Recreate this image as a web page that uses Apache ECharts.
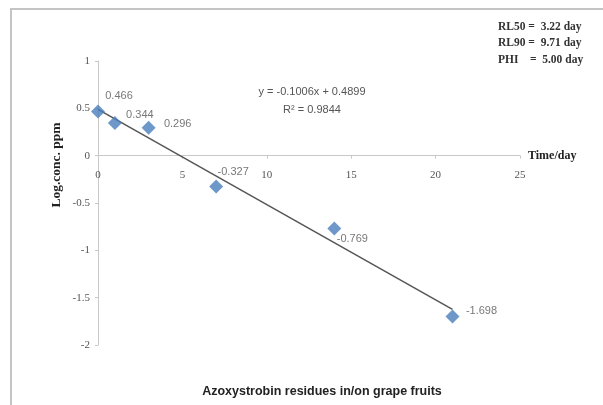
<!DOCTYPE html>
<html>
<head>
<meta charset="utf-8">
<script src="https://cdn.jsdelivr.net/npm/echarts@6/dist/echarts.min.js"></script>
<style>html,body{margin:0;padding:0;background:#fff}#c{width:603px;height:405px}</style>
</head>
<body>
<div id="c"></div>
<script>
var days = [0, 1, 3, 7, 14, 21];
var logConc = [0.466, 0.344, 0.296, -0.327, -0.769, -1.698];
var labelTexts = ['0.466', '0.344', '0.296', '-0.327', '-0.769', '-1.698'];
var slope = -0.1006, intercept = 0.4899;
var trendX = [0, 21];
var xTicks = [0, 5, 10, 15, 20, 25];
var yTicks = [-2, -1.5, -1, -0.5, 0, 0.5, 1];

var labelOffsets = [[21, -16], [25, -8], [29, -4], [17, -15], [18, 11], [29, -5]];

var chart = echarts.init(document.getElementById('c'));
var serif = 'Liberation Serif, Times New Roman, serif';
var sans = 'Liberation Sans, Arial, sans-serif';
var gridTop = 61, gridBottom = 60, H = 405;
var plotH = H - gridTop - gridBottom;
var zeroOffset = -plotH * (0 - (-2)) / (1 - (-2));

chart.setOption({
  animation: false,
  grid: {left: 98, right: 83, top: gridTop, bottom: gridBottom},
  xAxis: {
    type: 'value', min: 0, max: 25, interval: 5,
    offset: zeroOffset,
    axisLine: {onZero: false, lineStyle: {color: '#c8c8c8', width: 1}},
    axisTick: {show: true, length: 3, lineStyle: {color: '#c8c8c8'}},
    axisLabel: {color: '#555', fontFamily: serif, fontSize: 11, margin: 14},
    splitLine: {show: false},
    name: 'Time/day', nameLocation: 'end', nameGap: 8,
    nameTextStyle: {color: '#222', fontFamily: serif, fontSize: 12, fontWeight: 'bold', padding: [18, 0, 0, 0]}
  },
  yAxis: {
    type: 'value', min: -2, max: 1, interval: 0.5,
    axisLine: {show: true, onZero: true, lineStyle: {color: '#c8c8c8', width: 1}},
    axisTick: {show: true, length: 3, lineStyle: {color: '#c8c8c8'}},
    axisLabel: {color: '#555', fontFamily: serif, fontSize: 11, margin: 8},
    splitLine: {show: false}
  },
  series: [
    {
      type: 'line',
      data: trendX.map(function (x) { return [x, slope * x + intercept]; }),
      symbol: 'none',
      lineStyle: {color: '#555', width: 1.5},
      z: 1
    },
    {
      type: 'scatter',
      symbol: 'diamond',
      symbolSize: 14,
      itemStyle: {color: '#4a7ebb'},
      data: days.map(function (d, i) {
        return {
          value: [d, logConc[i]],
          label: {
            show: true,
            formatter: labelTexts[i],
            position: 'inside',
            offset: labelOffsets[i],
            color: '#555',
            fontFamily: sans,
            fontSize: 11
          }
        };
      }),
      z: 3
    }
  ],
  graphic: [
    {type: 'rect', shape: {x: 11, y: 9, width: 620, height: 420}, style: {fill: 'none', stroke: '#c4c4c4', lineWidth: 2}, silent: true},
    {type: 'text', x: 312, y: 92, style: {text: 'y = -0.1006x + 0.4899', fill: '#555', font: '11px ' + sans, align: 'center', verticalAlign: 'middle'}},
    {type: 'text', x: 312, y: 110, style: {text: 'R² = 0.9844', fill: '#555', font: '11px ' + sans, align: 'center', verticalAlign: 'middle'}},
    {type: 'text', x: 498, y: 27, style: {text: 'RL50 =  3.22 day', fill: '#333', font: 'bold 11.5px ' + serif, verticalAlign: 'middle'}},
    {type: 'text', x: 498, y: 43, style: {text: 'RL90 =  9.71 day', fill: '#333', font: 'bold 11.5px ' + serif, verticalAlign: 'middle'}},
    {type: 'text', x: 498, y: 60, style: {text: 'PHI    =  5.00 day', fill: '#333', font: 'bold 11.5px ' + serif, verticalAlign: 'middle'}},
    {type: 'text', x: 57, y: 165, rotation: Math.PI / 2, style: {text: 'Log.conc. ppm', fill: '#222', font: 'bold 13.5px ' + serif, align: 'center', verticalAlign: 'middle'}},
    {type: 'text', x: 322, y: 392, style: {text: 'Azoxystrobin residues in/on grape fruits', fill: '#222', font: 'bold 12.5px ' + sans, align: 'center', verticalAlign: 'middle'}}
  ]
});
</script>
</body>
</html>
